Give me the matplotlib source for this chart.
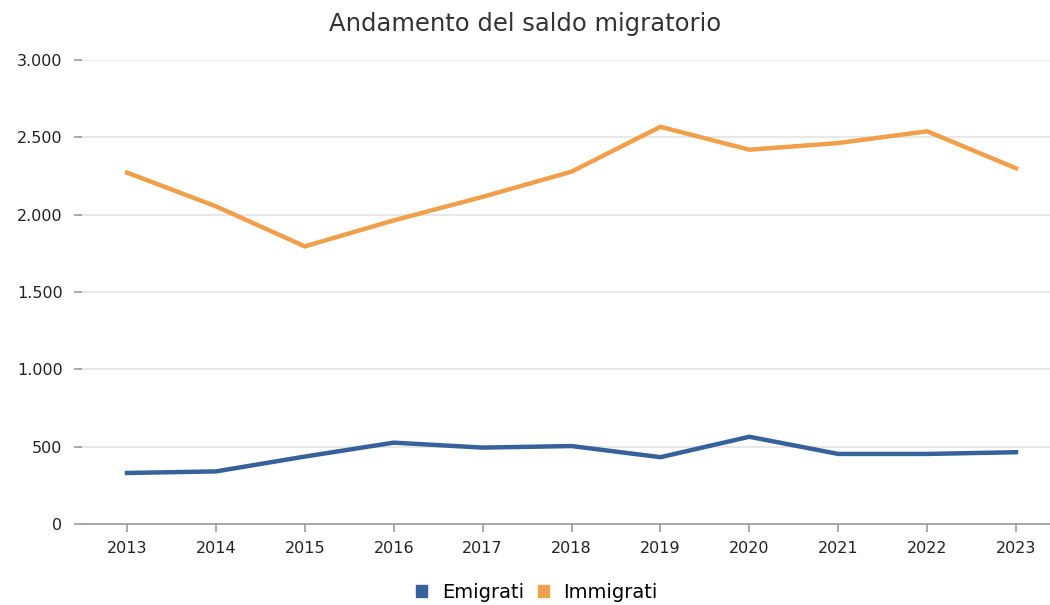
import matplotlib
matplotlib.use("Agg")
from matplotlib import pyplot
from matplotlib.ticker import FuncFormatter
from matplotlib.patches import Patch

pyplot.rcParams["font.family"] = ["DejaVu Sans"]

anni = [2013, 2014, 2015, 2016, 2017, 2018, 2019, 2020, 2021, 2022, 2023]
emigrati = [330, 340, 436, 526, 494, 504, 432, 564, 453, 453, 464]
immigrati = [2272, 2054, 1795, 1963, 2115, 2278, 2568, 2420, 2463, 2539, 2300]
yticks = [0, 500, 1000, 1500, 2000, 2500, 3000]

blu = "#36619a"
arancio = "#f0a04b"

fig = pyplot.figure(figsize=(10.5, 6.05), dpi=100)
ax = fig.add_axes([82/1050, 1-524/605, (1050-82)/1050, (524-60)/605])

ax.plot(anni, emigrati, color=blu, linewidth=3.2, solid_joinstyle="miter")
ax.plot(anni, immigrati, color=arancio, linewidth=3.2, solid_joinstyle="miter")

ax.set_ylim(0, 3000)
ax.set_xlim(2013-45/88.9, 2023+34/88.9)
ax.set_yticks(yticks)
ax.yaxis.set_major_formatter(FuncFormatter(lambda v, p: "{:,.0f}".format(v).replace(",", ".")))
ax.set_xticks(anni)
ax.grid(axis="y", color="#e6e6e6", linewidth=1.3)
ax.set_axisbelow(True)

for s in ["top", "right", "left"]:
    ax.spines[s].set_visible(False)
ax.spines["bottom"].set_color("#999999")
ax.spines["bottom"].set_linewidth(1.2)
ax.tick_params(axis="y", length=6, width=1.2, color="#999999", pad=8, labelsize=11.5, labelcolor="#222222")
ax.tick_params(axis="x", length=6, width=1.2, color="#999999", pad=6, labelsize=11.5, labelcolor="#222222")

fig.text(0.5, 1-24/605, "Andamento del saldo migratorio", ha="center", va="center",
         fontsize=17.5, color="#333333")

handles = [Patch(color=blu, label="Emigrati"), Patch(color=arancio, label="Immigrati")]
fig.legend(handles=handles, loc="center", bbox_to_anchor=(537/1050, 1-592/605), ncol=2,
           frameon=False, fontsize=14, handlelength=0.56, handleheight=0.56,
           handletextpad=0.75, columnspacing=0.7, borderpad=0, borderaxespad=0)

fig.savefig("out.png", dpi=100)
